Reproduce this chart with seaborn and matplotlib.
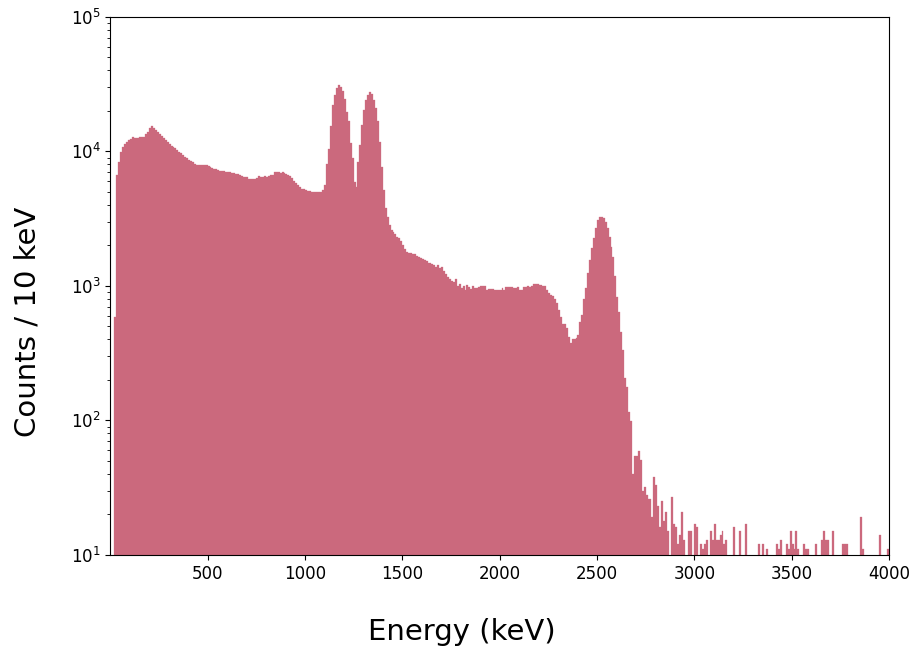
import numpy as np
import pandas as pd
import matplotlib
matplotlib.use("Agg")
import matplotlib.pyplot as plt
import seaborn as sns

# 10 keV bins from 0 to 4000 keV
bin_width = 10
energy_min = 0
energy_max = 4000

counts = [
    0, 0, 590, 6680, 8400, 9970, 10700, 11300, 11700, 12100,
    12400, 12700, 12550, 12550, 12550, 12700, 12700, 12700, 13400, 14000,
    14900, 15500, 15000, 14400, 13900, 13400, 13000, 12550, 12100, 11800,
    11400, 11000, 10800, 10560, 10300, 9970, 9700, 9420, 9100, 8900,
    8690, 8490, 8300, 8100, 7940, 7880, 7880, 7880, 7900, 7900,
    7800, 7710, 7500, 7450, 7380, 7250, 7200, 7100, 7100, 7050,
    7000, 6980, 6900, 6890, 6800, 6800, 6720, 6580, 6430, 6430,
    6400, 6280, 6280, 6280, 6280, 6300, 6580, 6430, 6500, 6580,
    6500, 6580, 6650, 6720, 6980, 6980, 6980, 6900, 6980, 6890,
    6800, 6720, 6580, 6310, 6070, 5800, 5600, 5450, 5300, 5260,
    5170, 5080, 5080, 5020, 5000, 4960, 4960, 4960, 4960, 5170,
    5640, 8030, 10400, 15550, 22200, 26300, 29800, 31200, 30300, 28200,
    24600, 19800, 16700, 11500, 8900, 5970, 5430, 8400, 11200, 15700,
    20400, 24200, 26300, 27600, 26700, 24200, 20900, 16700, 11800, 7710,
    5170, 3780, 3270, 2840, 2600, 2530, 2450, 2330, 2260, 2140,
    2020, 1880, 1800, 1760, 1750, 1740, 1720, 1670, 1640, 1620,
    1580, 1570, 1535, 1480, 1470, 1450, 1420, 1390, 1420, 1360,
    1380, 1290, 1230, 1170, 1135, 1090, 1070, 1135, 990, 1030,
    960, 1000, 935, 1010, 975, 950, 990, 970, 960, 975,
    990, 990, 990, 935, 945, 945, 945, 935, 935, 935,
    935, 965, 935, 980, 980, 980, 980, 960, 960, 980,
    940, 940, 980, 980, 990, 980, 990, 1040, 1040, 1030,
    1020, 1010, 990, 990, 935, 890, 860, 840, 795, 740,
    660, 590, 525, 520, 490, 420, 375, 405, 405, 410,
    430, 540, 608, 800, 962, 1240, 1560, 1930, 2290, 2690,
    3100, 3240, 3270, 3180, 2980, 2690, 2330, 1960, 1650, 1190,
    834, 637, 453, 334, 206, 176, 116, 99, 40, 54,
    54, 59, 51, 30, 32, 28, 26, 26, 19, 38,
    33, 23, 16, 25, 18, 21, 15, 0, 27, 17,
    16, 12, 14, 21, 13, 0, 0, 15, 15, 0,
    17, 16, 0, 12, 11, 12, 13, 0, 15, 13,
    17, 13, 13, 14, 15, 12, 13, 0, 0, 0,
    16, 0, 0, 15, 0, 0, 17, 0, 0, 0,
    0, 0, 0, 12, 0, 12, 0, 11, 0, 0,
    0, 0, 12, 11, 13, 0, 0, 12, 11, 15,
    12, 11, 15, 11, 0, 0, 12, 11, 11, 0,
    0, 0, 12, 0, 0, 13, 15, 13, 13, 0,
    0, 15, 0, 0, 0, 0, 12, 12, 12, 0,
    0, 0, 0, 0, 0, 19, 11, 0, 0, 0,
    0, 0, 0, 0, 0, 14, 0, 0, 0, 11,
]

x_ticks = [500, 1000, 1500, 2000, 2500, 3000, 3500, 4000]
x_label = "Energy (keV)"
y_label = "Counts / 10 keV"
bar_color = "#CB697D"

centers = np.arange(energy_min, energy_max, bin_width) + bin_width / 2
df = pd.DataFrame({"energy": centers, "counts": counts})

fig = plt.figure(figsize=(9.15, 6.52), dpi=100)
ax = fig.add_axes([0.1205, 0.149, 0.851, 0.825])

sns.histplot(data=df, x="energy", weights="counts",
             binwidth=bin_width, binrange=(energy_min, energy_max),
             color=bar_color, alpha=1.0, edgecolor=bar_color,
             linewidth=0.2, ax=ax)

ax.set_yscale("log")
ax.set_ylim(10, 1e5)
ax.set_xlim(energy_min, energy_max)
ax.set_xticks(x_ticks)
ax.tick_params(axis="both", labelsize=12)
ax.set_xlabel("")
ax.set_ylabel("")
fig.text(0.505, 0.031, x_label, fontsize=21, ha="center", va="center")
fig.text(0.030, 0.506, y_label, fontsize=21, ha="center", va="center",
         rotation=90)

fig.savefig("out.png", dpi=100)
